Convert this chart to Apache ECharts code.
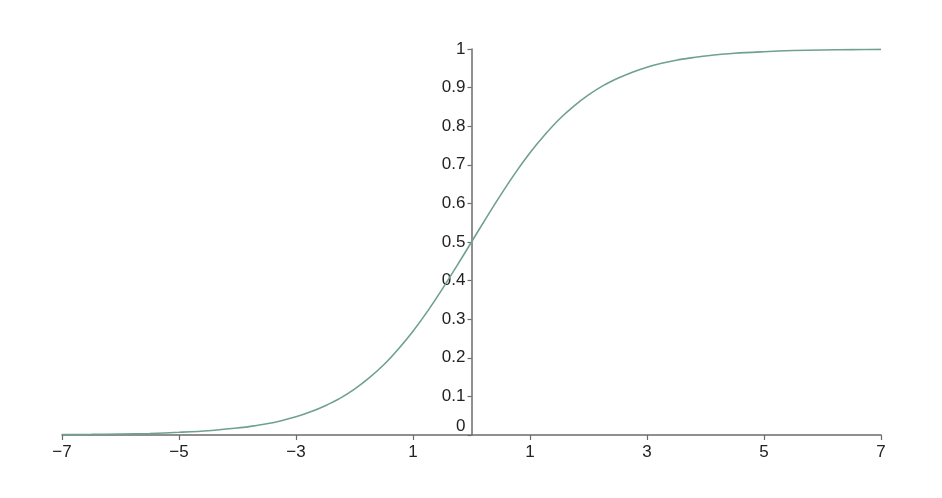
<!DOCTYPE html>
<html><head><meta charset="utf-8">
<script src="https://cdn.jsdelivr.net/npm/echarts@6/dist/echarts.min.js"></script>
<style>html,body{margin:0;padding:0;background:#fff}#c{width:942px;height:498px}</style>
</head><body><div id="c"></div>
<script>
// Curve samples
const xValues = [-7,-6.5,-6,-5.5,-5,-4.5,-4,-3.75,-3.5,-3.25,-3,-2.75,-2.5,-2.25,-2,-1.75,-1.5,-1.25,-1,-0.75,-0.5,-0.25,0,0.25,0.5,0.75,1,1.25,1.5,1.75,2,2.25,2.5,2.75,3,3.25,3.5,3.75,4,4.5,5,5.5,6,6.5,7];
const yValues = [0.001,0.0015,0.0025,0.004,0.007,0.011,0.018,0.023,0.029,0.037,0.047,0.060,0.076,0.095,0.119,0.148,0.182,0.223,0.269,0.321,0.378,0.438,0.5,0.562,0.622,0.679,0.731,0.777,0.818,0.852,0.881,0.905,0.924,0.940,0.953,0.963,0.971,0.977,0.982,0.989,0.993,0.996,0.9975,0.9985,0.999];
const xTickValues = [-7,-5,-3,-1,1,3,5,7];
const xTickLabels = ['\u22127','\u22125','\u22123','1','1','3','5','7'];
const yTickValues = [0,0.1,0.2,0.3,0.4,0.5,0.6,0.7,0.8,0.9,1];
const yTickLabels = ['0','0.1','0.2','0.3','0.4','0.5','0.6','0.7','0.8','0.9','1'];

const chart = echarts.init(document.getElementById('c'), null, {renderer:'canvas'});
const axisCol = '#6b6b6b';
const font = 'Liberation Sans, Arial, sans-serif';
chart.setOption({
  animation:false,
  grid:{left:62,right:61,top:49,bottom:63,containLabel:false},
  xAxis:{
    type:'value', min:-7, max:7,
    axisLine:{show:true,onZero:false,lineStyle:{color:axisCol,width:1.5}},
    axisTick:{show:true,length:5,customValues:xTickValues,lineStyle:{color:axisCol,width:1.2}},
    axisLabel:{customValues:xTickValues,margin:9,fontSize:17,color:'#222',fontFamily:font,
      formatter:function(v){const i=xTickValues.indexOf(v);return i>=0?xTickLabels[i]:'';}},
    splitLine:{show:false}
  },
  yAxis:{
    type:'value', min:0, max:1, interval:0.1,
    offset:-409.5,
    axisLine:{show:true,onZero:false,lineStyle:{color:axisCol,width:1.5}},
    axisTick:{show:true,length:4,lineStyle:{color:axisCol,width:1.2}},
    axisLabel:{margin:6,fontSize:17,color:'#222',fontFamily:font,verticalAlignMinLabel:'bottom',
      formatter:function(v){let best=0;for(let i=0;i<yTickValues.length;i++){if(Math.abs(yTickValues[i]-v)<Math.abs(yTickValues[best]-v))best=i;}return yTickLabels[best];}},
    splitLine:{show:false}
  },
  series:[{
    type:'line', smooth:0.3, showSymbol:false,
    data:xValues.map((x,i)=>[x,yValues[i]]),
    lineStyle:{color:'#6fa092',width:1.6}
  }]
});
</script></body></html>
